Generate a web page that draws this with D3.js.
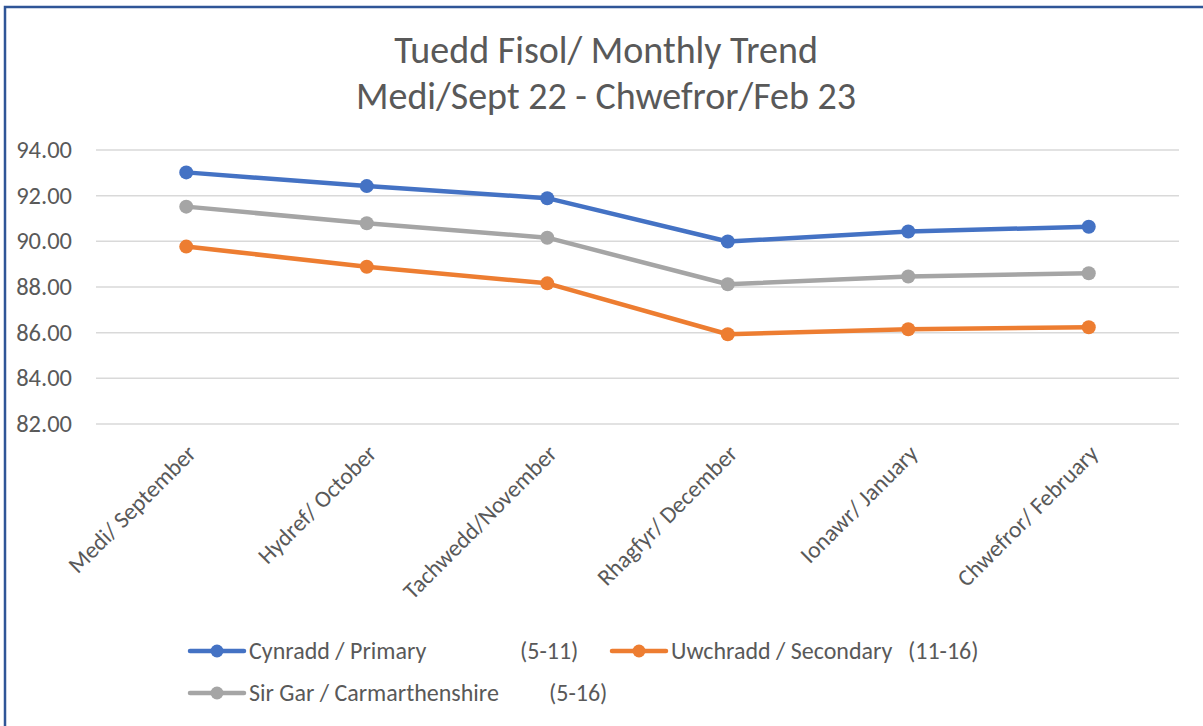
<!DOCTYPE html>
<head>
  <meta charset="utf-8">
  <script src="https://d3js.org/d3.v7.min.js"></script>
  <style>
    body { margin:0; background:white; }
    text { font-family: Carlito, 'Open Sans', sans-serif; fill: #595959; }
    .grid line { stroke: #d9d9d9; stroke-width: 1.5; }
    .title { font-size: 38px; text-anchor: middle; }
    .ytick { font-size: 24.5px; text-anchor: end; }
    .xtick { font-size: 23.5px; text-anchor: end; }
    .legend text { font-size: 24px; }
  </style>
</head>
<body>
  <div class="chart"></div>
  <script>
    // categories and series
    const months = ['Medi/ September', 'Hydref/ October', 'Tachwedd/November',
      'Rhagfyr/ December', 'Ionawr/ January', 'Chwefror/ February'];
    const primary = [93.02, 92.42, 91.89, 89.99, 90.43, 90.64];
    const secondary = [89.77, 88.89, 88.16, 85.93, 86.15, 86.24];
    const county = [91.52, 90.79, 90.16, 88.12, 88.46, 88.60];
    const yTicks = [82, 84, 86, 88, 90, 92, 94];
    const titleLines = ['Tuedd Fisol/ Monthly Trend', 'Medi/Sept 22 - Chwefror/Feb 23'];
    const seriesNames = ['Cynradd / Primary', 'Uwchradd / Secondary', 'Sir Gar / Carmarthenshire'];
    const seriesAges = ['(5-11)', '(11-16)', '(5-16)'];

    const colors = ['#4472c4', '#ed7d31', '#a5a5a5'];
    const series = [primary, secondary, county];

    const W = 1203, H = 726;
    const plot = { left: 96, right: 1179, top: 150, bottom: 424 };

    const svg = d3.select('.chart').append('svg')
      .attr('width', W).attr('height', H);

    // outer frame (runs off the right and bottom)
    svg.append('rect')
      .attr('x', 5).attr('y', 7)
      .attr('width', W + 20).attr('height', H + 20)
      .attr('fill', 'white')
      .attr('stroke', '#2f5597').attr('stroke-width', 2.5);

    const x = d3.scaleBand().domain(months).range([plot.left, plot.right]);
    const y = d3.scaleLinear().domain([82, 94]).range([plot.bottom, plot.top]);

    // title
    svg.append('text').attr('class', 'title')
      .selectAll('tspan').data(titleLines).enter().append('tspan')
        .attr('x', 606)
        .attr('y', (d, i) => 63 + i * 46)
        .text(d => d);

    // gridlines + y labels
    const grid = svg.append('g').attr('class', 'grid');
    grid.selectAll('line').data(yTicks).enter().append('line')
      .attr('x1', plot.left).attr('x2', plot.right)
      .attr('y1', d => y(d)).attr('y2', d => y(d));
    svg.selectAll('.ytick').data(yTicks).enter().append('text')
      .attr('class', 'ytick')
      .attr('x', 72)
      .attr('y', d => y(d) + 8)
      .text(d3.format('.2f'));

    // x labels, rotated
    svg.selectAll('.xtick').data(months).enter().append('text')
      .attr('class', 'xtick')
      .attr('transform', d => `translate(${x(d) + x.bandwidth() / 2 + 11}, ${plot.bottom + 31}) rotate(-45)`)
      .text(d => d);

    const line = d3.line()
      .x((d, i) => x(months[i]) + x.bandwidth() / 2)
      .y(d => y(d));

    // draw grey first, then orange, blue on top
    [2, 1, 0].forEach(k => {
      const g = svg.append('g');
      g.append('path')
        .datum(series[k])
        .attr('d', line)
        .attr('fill', 'none')
        .attr('stroke', colors[k])
        .attr('stroke-width', 4.5)
        .attr('stroke-linejoin', 'round');
      g.selectAll('circle').data(series[k]).enter().append('circle')
        .attr('cx', (d, i) => x(months[i]) + x.bandwidth() / 2)
        .attr('cy', d => y(d))
        .attr('r', 7)
        .attr('fill', colors[k]);
    });

    // legend
    const legendPos = [[190, 651, 330], [612, 651, 296], [190, 693, 359]];
    const legend = svg.append('g').attr('class', 'legend');
    seriesNames.forEach((name, k) => {
      const [lx, ly, ageOff] = legendPos[k];
      legend.append('line')
        .attr('x1', lx).attr('x2', lx + 54)
        .attr('y1', ly).attr('y2', ly)
        .attr('stroke', colors[k]).attr('stroke-width', 4.5)
        .attr('stroke-linecap', 'round');
      legend.append('circle')
        .attr('cx', lx + 27).attr('cy', ly).attr('r', 6.5)
        .attr('fill', colors[k]);
      legend.append('text')
        .attr('x', lx + 59).attr('y', ly + 8)
        .text(name);
      legend.append('text')
        .attr('x', lx + ageOff).attr('y', ly + 8)
        .text(seriesAges[k]);
    });
  </script>
</body>
